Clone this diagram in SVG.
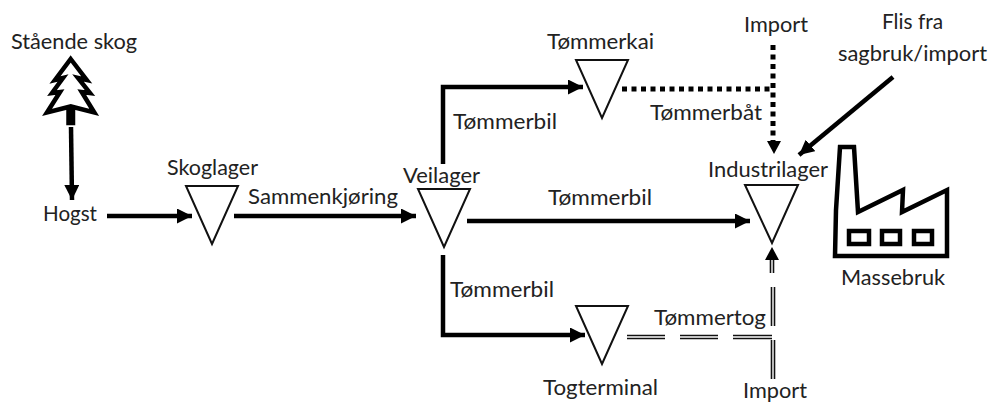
<svg xmlns="http://www.w3.org/2000/svg" width="989" height="403" viewBox="0 0 989 403">
<style>
text{font-family:"Lato","Open Sans",sans-serif;font-size:20.5px;fill:#222}
.tri{fill:#fff;stroke:#111;stroke-width:2}
.c{fill:none;stroke:#000;stroke-width:4.5}
.d{fill:none;stroke:#000;stroke-width:5;stroke-dasharray:5 4.5}
.o{fill:none;stroke:#000;stroke-width:4.5;stroke-linejoin:miter}
.r1{stroke:#111;stroke-width:4.6;fill:none}
.r2{stroke:#fff;stroke-width:1.4;fill:none}
</style>
<defs>
<marker id="a" viewBox="0 0 15 15" refX="15" refY="7.5" markerWidth="15" markerHeight="15" markerUnits="userSpaceOnUse" orient="auto"><path d="M0 0L15 7.5L0 15Z"/></marker>
</defs>
<rect width="989" height="403" fill="#fff"/>
<g id="connectors">
<path class="c" d="M71 127L72 200" marker-end="url(#a)"/>
<path class="c" d="M107 216H192" marker-end="url(#a)"/>
<path class="c" d="M234 216H416" marker-end="url(#a)"/>
<path class="c" d="M467 221H750" marker-end="url(#a)"/>
<path class="c" d="M443 164V87H583" marker-end="url(#a)"/>
<path class="c" d="M443 255V335H585" marker-end="url(#a)"/>
<path class="d" d="M622 89H772"/>
<path class="d" d="M773 45V141"/>
<path d="M767 141H781L774 154Z"/>
<path class="c" d="M893 77L799 155" marker-end="url(#a)"/>
<g class="r1"><path d="M627 337H665M680 337H718M733 337H772M773 340V379M773 287V326M772 258V273"/></g>
<g class="r2"><path d="M627 337H665M680 337H718M733 337H772M773 340V379M773 287V326M772 258V273"/></g>
<path d="M765 260H779L772 247Z"/>
</g>
<g id="staende-skog">
<path class="o" d="M70.7 59L86.7 80L78 78L90 93L81.7 92L94.3 112.5L73 107V123H68.5V107L47 112.5L60 92L52 93L63 78L55 80Z"/>
<text x="11" y="49" textLength="126" lengthAdjust="spacingAndGlyphs">Stående skog</text>
</g>
<g id="hogst"><text x="43" y="221" textLength="54" lengthAdjust="spacingAndGlyphs">Hogst</text></g>
<g id="skoglager"><path class="tri" d="M186 186H238L212 244Z"/><text x="167" y="175" textLength="91" lengthAdjust="spacingAndGlyphs">Skoglager</text></g>
<g id="veilager"><path class="tri" d="M418 189H470L444 247Z"/><text x="403" y="183" textLength="77" lengthAdjust="spacingAndGlyphs">Veilager</text></g>
<g id="tommerkai"><path class="tri" d="M576 60H628L602 118Z"/><text x="547" y="49" textLength="107" lengthAdjust="spacingAndGlyphs">Tømmerkai</text></g>
<g id="industrilager"><path class="tri" d="M745 185H798L772 243Z"/><text x="708" y="177" textLength="120" lengthAdjust="spacingAndGlyphs">Industrilager</text></g>
<g id="togterminal"><path class="tri" d="M576 306H628L602 364Z"/><text x="543" y="395" textLength="115" lengthAdjust="spacingAndGlyphs">Togterminal</text></g>
<g id="massebruk">
<path class="o" d="M835 256L836 210L840 147H854L858 212L903 190L902 212L947 190V256Z"/>
<path class="o" d="M849 231H869V244H849ZM882 231H900V244H882ZM914 231H932V244H914Z"/>
<text x="841" y="285" textLength="104" lengthAdjust="spacingAndGlyphs">Massebruk</text>
</g>
<g id="import-top"><text x="744" y="32" textLength="64" lengthAdjust="spacingAndGlyphs">Import</text></g>
<g id="import-bottom"><text x="743" y="398" textLength="64" lengthAdjust="spacingAndGlyphs">Import</text></g>
<g id="flis"><text x="882" y="29" textLength="61" lengthAdjust="spacingAndGlyphs">Flis fra</text><text x="838" y="61" textLength="149" lengthAdjust="spacingAndGlyphs">sagbruk/import</text></g>
<g id="labels">
<text x="248" y="204" textLength="150" lengthAdjust="spacingAndGlyphs">Sammenkjøring</text>
<text x="453" y="129" textLength="104" lengthAdjust="spacingAndGlyphs">Tømmerbil</text>
<text x="548" y="205" textLength="104" lengthAdjust="spacingAndGlyphs">Tømmerbil</text>
<text x="450" y="297" textLength="104" lengthAdjust="spacingAndGlyphs">Tømmerbil</text>
<text x="650" y="120" textLength="112" lengthAdjust="spacingAndGlyphs">Tømmerbåt</text>
<text x="654" y="325" textLength="112" lengthAdjust="spacingAndGlyphs">Tømmertog</text>
</g>
</svg>
